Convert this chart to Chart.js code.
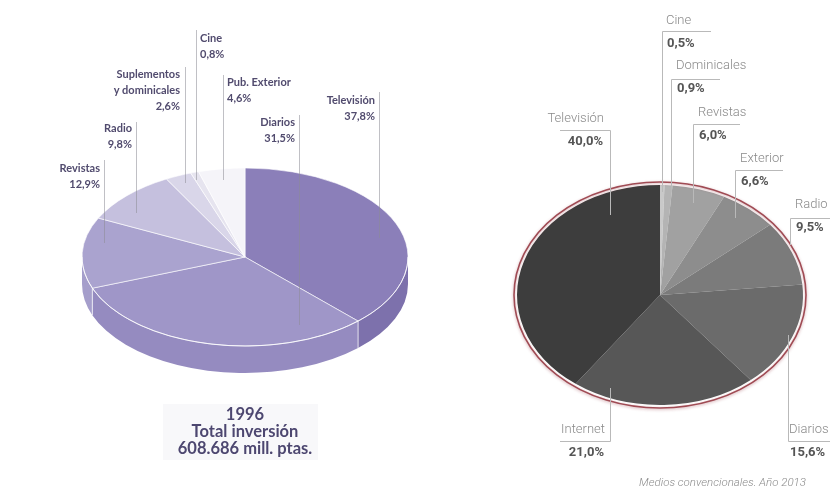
<!DOCTYPE html>
<html>
<head>
<meta charset="utf-8">
<script src="https://cdn.jsdelivr.net/npm/chart.js@4/dist/chart.umd.min.js"></script>
<style>
  html, body { margin: 0; padding: 0; background: #fff; }
  #wrap { position: relative; width: 830px; height: 491px; overflow: hidden; }
  #wrap canvas { position: absolute; left: 0; top: 0; }
</style>
</head>
<body>
<div id="wrap">
  <canvas id="pie1996" width="830" height="491"></canvas>
  <canvas id="pie2013" width="830" height="491"></canvas>
</div>
<script>
// 1996 investment by medium (%)
const labels1996 = ['Televisión', 'Diarios', 'Revistas', 'Radio', ['Suplementos', 'y dominicales'], 'Cine', 'Pub. Exterior'];
const shares1996 = [37.8, 31.5, 12.9, 9.8, 2.6, 0.8, 4.6];
const footer1996 = ['1996', 'Total inversión', '608.686 mill. ptas.'];

// 2013, conventional media (%)
const labels2013 = ['Cine', 'Dominicales', 'Revistas', 'Exterior', 'Radio', 'Diarios', 'Internet', 'Televisión'];
const shares2013 = [0.5, 0.9, 6.0, 6.6, 9.5, 15.6, 21.0, 40.0];
const caption2013 = 'Medios convencionales. Año 2013';

// colours
const top1996 = ['#8b7fb9', '#9f96c8', '#aaa3cf', '#c5c0de', '#d9d6e9', '#e6e4ef', '#f5f4f9'];
const side1996 = ['#7d71ac', '#958bc0', '#a59ecb', '#bdb7d9', '#d2cee5', '#e0ddeb', '#eeedf4'];
const fill2013 = ['#c9c9c9', '#b4b4b4', '#a1a1a1', '#8d8d8d', '#7b7b7b', '#6b6b6b', '#575757', '#3d3d3d'];

// label placement: [textX, firstLineY, align, leaderX, leaderTop, leaderBottom]
const place1996 = [
  [375, 100, 'right', 379, 92, 238],
  [295, 122, 'right', 299, 115, 325],
  [100, 168, 'right', 104, 160, 243],
  [132, 128, 'right', 136, 122, 213],
  [180, 74, 'right', 185, 67, 183],
  [200, 38, 'left', 196, 30, 180],
  [227, 82, 'left', 223, 75, 180]
];
// [textX, nameY, align, ruleY, ruleX1, ruleX2, leaderEndY]
const place2013 = [
  [666, 21, 'left', 31, 662, 711, 192],
  [676, 66, 'left', 79, 671, 720, 192],
  [698, 113, 'left', 124, 693, 740, 203],
  [740, 159, 'left', 170, 735, 783, 218],
  [795, 205, 'left', 218, 790, 830, 245],
  [789, 430, 'left', 441, 788, 830, 335],
  [605, 430, 'right', 441, 610, 560, 388],
  [604, 119, 'right', 130, 610, 560, 215]
];

const pct = v => v.toFixed(1).replace('.', ',') + '%';

// squash the round pie into an ellipse (and give it a side wall when depth > 0)
const tiltPlugin = {
  id: 'tilt',
  beforeDatasetsDraw(chart, args, opts) {
    const ctx = chart.ctx;
    const arcs = chart.getDatasetMeta(0).data;
    const {x, y, outerRadius: r} = arcs[0];
    const k = opts.ry / r;
    ctx.save();
    ctx.translate(x, y);
    ctx.scale(1, k);
    ctx.translate(-x, -y);
    if (opts.depth) {
      const d = opts.depth / k;
      arcs.forEach((arc, i) => {
        const a = Math.max(arc.startAngle, 0);
        const b = Math.min(arc.endAngle, Math.PI);
        if (a >= b) return;
        ctx.beginPath();
        ctx.arc(x, y, r, a, b);
        ctx.arc(x, y + d, r, b, a, true);
        ctx.closePath();
        ctx.fillStyle = opts.sideColors[i];
        ctx.fill();
      });
    }
  },
  afterDatasetsDraw(chart, args, opts) {
    const ctx = chart.ctx;
    ctx.restore();
    const arcs = chart.getDatasetMeta(0).data;
    const {x, y, outerRadius: r} = arcs[0];
    if (opts.depth) {
      ctx.save();
      ctx.strokeStyle = 'rgba(255,255,255,0.75)';
      ctx.lineWidth = 1;
      ctx.beginPath();
      ctx.ellipse(x, y, r, opts.ry, 0, 0, Math.PI);
      ctx.stroke();
      arcs.forEach(arc => {
        const a = arc.startAngle;
        if (a <= 0 || a >= Math.PI) return;
        const px = x + r * Math.cos(a);
        const py = y + opts.ry * Math.sin(a);
        ctx.beginPath();
        ctx.moveTo(px, py);
        ctx.lineTo(px, py + opts.depth);
        ctx.stroke();
      });
      ctx.restore();
    }
    if (opts.ring) {
      ctx.save();
      ctx.shadowColor = 'rgba(150,60,70,0.45)';
      ctx.shadowBlur = 3;
      ctx.shadowOffsetY = 1;
      ctx.strokeStyle = '#a04b54';
      ctx.lineWidth = 1.6;
      ctx.beginPath();
      ctx.ellipse(x, y, r + 3, opts.ry + 3, 0, 0, Math.PI * 2);
      ctx.stroke();
      ctx.restore();
    }
  }
};

const labels1996Plugin = {
  id: 'labels1996',
  afterDraw(chart) {
    const ctx = chart.ctx;
    ctx.save();
    ctx.strokeStyle = 'rgba(140,140,150,0.55)';
    ctx.lineWidth = 1;
    place1996.forEach(p => {
      ctx.beginPath();
      ctx.moveTo(p[3] + 0.5, p[4]);
      ctx.lineTo(p[3] + 0.5, p[5]);
      ctx.stroke();
    });
    ctx.fillStyle = '#514b6e';
    ctx.font = 'bold 11px Lato, "Noto Sans", sans-serif';
    ctx.textBaseline = 'middle';
    labels1996.forEach((name, i) => {
      const p = place1996[i];
      const lines = [].concat(name, pct(shares1996[i]));
      ctx.textAlign = p[2];
      lines.forEach((t, j) => ctx.fillText(t, p[0], p[1] + j * 16));
    });
    // total box under the pie
    ctx.fillStyle = 'rgba(240,240,243,0.45)';
    ctx.fillRect(163, 404, 155, 56);
    ctx.fillStyle = '#4d4770';
    ctx.font = 'bold 16.5px Lato, "Noto Sans", sans-serif';
    ctx.textAlign = 'center';
    footer1996.forEach((t, j) => ctx.fillText(t, 245, 415 + j * 17));
    ctx.restore();
  }
};

const labels2013Plugin = {
  id: 'labels2013',
  afterDraw(chart) {
    const ctx = chart.ctx;
    ctx.save();
    ctx.strokeStyle = '#b9b9b9';
    ctx.lineWidth = 1;
    place2013.forEach(p => {
      ctx.beginPath();
      ctx.moveTo(p[5], p[3] + 0.5);
      ctx.lineTo(p[4] + 0.5, p[3] + 0.5);
      ctx.lineTo(p[4] + 0.5, p[6]);
      ctx.stroke();
    });
    ctx.textBaseline = 'middle';
    labels2013.forEach((name, i) => {
      const p = place2013[i];
      ctx.textAlign = p[2];
      ctx.fillStyle = '#8a8a8a';
      ctx.font = '300 13px Roboto, "Liberation Sans", sans-serif';
      ctx.fillText(name, p[0], p[1]);
      ctx.fillStyle = '#555';
      ctx.font = 'bold 13px Roboto, "Liberation Sans", sans-serif';
      ctx.fillText(pct(shares2013[i]), p[0] + (p[2] === 'left' ? 1 : -1), p[1] + 23);
    });
    ctx.fillStyle = '#8c8c8c';
    ctx.font = 'italic 300 11.5px Roboto, "Liberation Sans", sans-serif';
    ctx.textAlign = 'right';
    ctx.fillText(caption2013, 806, 483);
    ctx.restore();
  }
};

const common = {
  responsive: false,
  animation: false,
  events: [],
  plugins: { legend: { display: false }, tooltip: { enabled: false } }
};

new Chart(document.getElementById('pie1996'), {
  type: 'pie',
  data: {
    labels: labels1996,
    datasets: [{
      data: shares1996,
      backgroundColor: top1996,
      borderColor: 'rgba(255,255,255,0.8)',
      borderWidth: 1
    }]
  },
  options: {
    ...common,
    radius: 163,
    layout: { padding: { left: 0, right: 340, top: 23, bottom: 0 } },
    plugins: {
      ...common.plugins,
      tilt: { ry: 89, depth: 27, sideColors: side1996 }
    }
  },
  plugins: [tiltPlugin, labels1996Plugin]
});

new Chart(document.getElementById('pie2013'), {
  type: 'pie',
  data: {
    labels: labels2013,
    datasets: [{
      data: shares2013,
      backgroundColor: fill2013,
      borderWidth: 0
    }]
  },
  options: {
    ...common,
    radius: 143,
    layout: { padding: { left: 490, right: 0, top: 99, bottom: 0 } },
    plugins: {
      ...common.plugins,
      tilt: { ry: 110, ring: true }
    }
  },
  plugins: [tiltPlugin, labels2013Plugin]
});
</script>
</body>
</html>
